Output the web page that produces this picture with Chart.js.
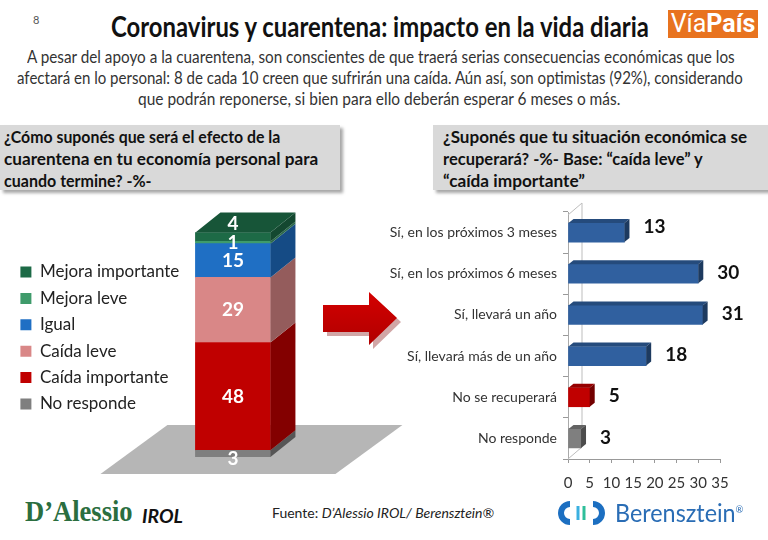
<!DOCTYPE html>
<html>
<head>
<meta charset="utf-8">
<script src="https://cdn.jsdelivr.net/npm/chart.js@4.4.1/dist/chart.umd.min.js"></script>
<style>
  body { margin: 0; width: 768px; height: 540px; background: #fff; position: relative; overflow: hidden; font-family: Lato, "Open Sans", sans-serif; color: #222; }
  .abs { position: absolute; white-space: nowrap; }
  .fit { transform-origin: left top; }
  #pageno { left: 33px; top: 13px; font-size: 11px; color: #555; }
  #title { left: 111px; top: 9px; font-size: 28px; font-weight: bold; color: #111; }
  #logo { left: 668px; top: 10px; width: 90px; height: 28px; background: #e8731f; color: #fff; font-size: 25px; line-height: 28px; text-align: center; font-family: "Liberation Sans Narrow", Roboto, sans-serif; }
  #logo b { font-weight: bold; }
  .sub { font-size: 17px; color: #333; }
  .qbox { position: absolute; background: #d9d9d9; box-shadow: 3px 3px 3px rgba(0,0,0,0.35); }
  .q { font-size: 17px; font-weight: bold; color: #111; }
  #fuente { left: 272px; top: 504px; font-size: 14px; color: #222; }
  #dal { left: 25px; top: 495px; font-family: "Liberation Serif", serif; font-size: 29px; font-weight: bold; color: #2b6e3f; }
  #irol { left: 142px; top: 505px; font-size: 18px; font-weight: bold; font-style: italic; color: #111; }
  #beren { left: 615px; top: 497px; font-size: 25px; color: #2a6db5; }
  #beren sup { font-size: 10px; }
</style>
</head>
<body>
<div id="pageno" class="abs">8</div>
<div id="title" class="abs fit" data-w="538">Coronavirus y cuarentena: impacto en la vida diaria</div>
<div id="logo" class="abs">Vía<b>País</b></div>

<div class="abs sub fit" style="left:27px; top:46px" data-w="708">A pesar del apoyo a la cuarentena, son conscientes de que traerá serias consecuencias económicas que los</div>
<div class="abs sub fit" style="left:17px; top:67px" data-w="726">afectará en lo personal: 8 de cada 10 creen que sufrirán una caída. Aún así, son optimistas (92%), considerando</div>
<div class="abs sub fit" style="left:138px; top:88px" data-w="482">que podrán reponerse, si bien para ello deberán esperar 6 meses o más.</div>

<div class="qbox" style="left:0; top:125px; width:340px; height:65px"></div>
<div class="abs q fit" style="left:4px; top:126px" data-w="276">¿Cómo suponés que será el efecto de la</div>
<div class="abs q fit" style="left:4px; top:148px" data-w="314">cuarentena en tu economía personal para</div>
<div class="abs q fit" style="left:4px; top:170px" data-w="148">cuando termine? -%-</div>

<div class="qbox" style="left:433px; top:125px; width:345px; height:65px"></div>
<div class="abs q fit" style="left:443px; top:126px" data-w="304">¿Suponés que tu situación económica se</div>
<div class="abs q fit" style="left:443px; top:148px" data-w="260">recuperará? -%- Base: “caída leve” y</div>
<div class="abs q fit" style="left:443px; top:170px" data-w="142">“caída importante”</div>

<div class="abs" style="left:0; top:195px; width:440px; height:285px"><canvas id="leftChart"></canvas></div>
<div class="abs" style="left:380px; top:195px; width:388px; height:300px"><canvas id="rightChart"></canvas></div>

<svg class="abs" style="left:316px; top:286px" width="90" height="70">
  <defs>
    <linearGradient id="ag" x1="0" y1="0" x2="0" y2="1">
      <stop offset="0" stop-color="#d40000"/>
      <stop offset="1" stop-color="#b00000"/>
    </linearGradient>
  </defs>
  <polygon points="9,21 55,21 55,8 83,34 55,61 55,48 9,48" fill="#7a0000" opacity="0.35" transform="translate(2,2)"/>
  <polygon points="7,19 53,19 53,6 81,32 53,59 53,46 7,46" fill="url(#ag)"/>
</svg>

<div id="dal" class="abs fit" data-w="108">D’Alessio</div>
<div id="irol" class="abs fit" data-w="41">IROL</div>
<div id="fuente" class="abs">Fuente: <i>D’Alessio IROL/ Berensztein®</i></div>
<svg class="abs" style="left:552px; top:499px" width="60" height="28">
  <path d="M 18 5 A 9 9 0 1 0 18 23" fill="none" stroke="#1c6fc1" stroke-width="6"/>
  <path d="M 41 5 A 9 9 0 1 1 41 23" fill="none" stroke="#1c6fc1" stroke-width="6"/>
  <line x1="26" y1="7" x2="26" y2="21" stroke="#3bb0e0" stroke-width="3"/>
  <line x1="32" y1="7" x2="32" y2="21" stroke="#2fbf9a" stroke-width="3"/>
</svg>
<div id="beren" class="abs fit" data-w="128">Berensztein<sup>®</sup></div>

<script>
// ---- data ----
const effectLabels = ["No responde", "Caída importante", "Caída leve", "Igual", "Mejora leve", "Mejora importante"];
const effectValues = [3, 48, 29, 15, 1, 4];
const effectColors = ["#7f7f7f", "#c00000", "#d98787", "#1f6fc4", "#3f9b6b", "#1d6a46"];

const recoveryLabels = ["Sí, en los próximos 3 meses", "Sí, en los próximos 6 meses", "Sí, llevará un año", "Sí, llevará más de un año", "No se recuperará", "No responde"];
const recoveryValues = [13, 30, 31, 18, 5, 3];
const recoveryColors = ["#30609f", "#30609f", "#30609f", "#30609f", "#c00000", "#7f7f7f"];
const xTickValues = [0, 5, 10, 15, 20, 25, 30, 35];

// stretch/condense html text to the width it has in the slide
document.querySelectorAll(".fit").forEach(el => {
    const w = parseFloat(el.dataset.w);
    el.style.transform = "scaleX(" + (w / el.offsetWidth) + ")";
});

function shade(hex, f) {
    const n = parseInt(hex.slice(1), 16);
    const r = Math.round(((n >> 16) & 255) * f);
    const g = Math.round(((n >> 8) & 255) * f);
    const b = Math.round((n & 255) * f);
    return "rgb(" + r + "," + g + "," + b + ")";
}

function poly(ctx, pts, fill) {
    ctx.beginPath();
    ctx.moveTo(pts[0][0], pts[0][1]);
    for (let i = 1; i < pts.length; i++) ctx.lineTo(pts[i][0], pts[i][1]);
    ctx.closePath();
    ctx.fillStyle = fill;
    ctx.fill();
}

// ---- left: stacked 3d column ----
const DX = 25, DY = -20;

const floorPlugin = {
    id: "floor",
    beforeDatasetsDraw(chart) {
        const p = chart.getDatasetMeta(0).data[0].getProps(["x", "width", "base"], true);
        const L = p.x - p.width / 2, R = p.x + p.width / 2, B = p.base;
        const ctx = chart.ctx;
        ctx.save();
        poly(ctx, [[L - 28, B - 32], [R + 132, B - 32], [R + 65, B + 17], [L - 95, B + 17]], "#b6b6b6");
        ctx.restore();
    }
};

const columnPlugin = {
    id: "column3d",
    afterDatasetsDraw(chart) {
        const ctx = chart.ctx;
        const n = chart.data.datasets.length;
        ctx.save();
        for (let i = 0; i < n; i++) {
            const p = chart.getDatasetMeta(i).data[0].getProps(["x", "y", "width", "base"], true);
            const L = p.x - p.width / 2, R = p.x + p.width / 2;
            const col = chart.data.datasets[i].backgroundColor;
            poly(ctx, [[R, p.y], [R + DX, p.y + DY], [R + DX, p.base + DY], [R, p.base]], shade(col, 0.68));
            if (i === n - 1) {
                poly(ctx, [[L, p.y], [L + DX, p.y + DY], [R + DX, p.y + DY], [R, p.y]], shade(col, 0.8));
            }
        }
        // value labels
        ctx.fillStyle = "#fff";
        ctx.font = "bold 19px Lato";
        ctx.textAlign = "center";
        ctx.textBaseline = "middle";
        for (let i = 0; i < n; i++) {
            const p = chart.getDatasetMeta(i).data[0].getProps(["x", "y", "width", "base"], true);
            let y = (p.y + p.base) / 2;
            if (i === n - 1) y = p.y + DY / 2 + 1;
            if (i === 0) y = p.base + 2;
            ctx.fillText(String(effectValues[i]), p.x, y);
        }
        ctx.restore();
    }
};

new Chart(document.getElementById("leftChart"), {
    type: "bar",
    data: {
        datasets: effectLabels.map((lab, i) => ({
            label: lab,
            data: [{ x: 0, y: effectValues[i] }],
            backgroundColor: effectColors[i],
            borderWidth: 0,
            barThickness: 75,
        })),
    },
    options: {
        responsive: true,
        maintainAspectRatio: false,
        animation: false,
        layout: { padding: { left: 11, right: 0, top: 24, bottom: 23 } },
        plugins: {
            legend: {
                position: "left",
                reverse: true,
                labels: {
                    boxWidth: 11,
                    boxHeight: 11,
                    padding: 9.4,
                    color: "#222",
                    font: { family: "Lato", size: 17 },
                },
            },
            tooltip: { enabled: false },
        },
        scales: {
            x: { type: "linear", stacked: true, display: false, offset: false, min: -0.4, max: 1.9 },
            y: { stacked: true, display: false, min: 0, max: 106 },
        },
    },
    plugins: [floorPlugin, columnPlugin],
});

// ---- right: horizontal 3d bars ----
const wallPlugin = {
    id: "wall",
    beforeDatasetsDraw(chart) {
        const a = chart.chartArea;
        const ctx = chart.ctx;
        ctx.save();
        ctx.strokeStyle = "#bdbdbd";
        ctx.lineWidth = 1;
        ctx.beginPath();
        ctx.moveTo(a.left, a.top + 3);
        ctx.lineTo(a.left + 14, a.top - 9);
        ctx.lineTo(a.left + 14, a.bottom - 12);
        ctx.lineTo(a.left, a.bottom);
        ctx.stroke();
        ctx.restore();
    }
};

const barPlugin = {
    id: "bar3d",
    afterDatasetsDraw(chart) {
        const ctx = chart.ctx;
        ctx.save();
        chart.getDatasetMeta(0).data.forEach((el, i) => {
            const p = el.getProps(["x", "y", "base", "height"], true);
            const T = p.y - p.height / 2, B = p.y + p.height / 2;
            const col = recoveryColors[i];
            poly(ctx, [[p.base, T], [p.base + 5, T - 4], [p.x + 5, T - 4], [p.x, T]], shade(col, 0.78));
            poly(ctx, [[p.x, T], [p.x + 5, T - 4], [p.x + 5, B - 4], [p.x, B]], shade(col, 0.6));
            ctx.fillStyle = "#111";
            ctx.font = "bold 19px Lato";
            ctx.textAlign = "left";
            ctx.textBaseline = "middle";
            ctx.fillText(String(recoveryValues[i]), p.x + 19, p.y - (i === 0 ? 6 : 1));
        });
        ctx.restore();
    }
};

new Chart(document.getElementById("rightChart"), {
    type: "bar",
    data: {
        labels: recoveryLabels,
        datasets: [{
            data: recoveryValues,
            backgroundColor: recoveryColors,
            borderWidth: 0,
            barThickness: 19,
        }],
    },
    options: {
        indexAxis: "y",
        responsive: true,
        maintainAspectRatio: false,
        animation: false,
        layout: { padding: { left: 0, right: 48, top: 17, bottom: 0 } },
        plugins: { legend: { display: false }, tooltip: { enabled: false } },
        scales: {
            x: {
                min: 0,
                max: 35,
                afterBuildTicks(scale) { scale.ticks = xTickValues.map(v => ({ value: v })); },
                afterFit(scale) { scale.height = 36; },
                grid: { drawOnChartArea: false, tickLength: 4, color: "#999" },
                border: { color: "#999" },
                ticks: { padding: 11, autoSkip: false, maxRotation: 0, minRotation: 0, color: "#333", font: { family: "Lato", size: 15 } },
            },
            y: {
                afterFit(scale) { scale.width = 188; },
                grid: { drawOnChartArea: false, offset: true, tickLength: 5, color: "#999" },
                border: { color: "#aaa" },
                ticks: { padding: 6, color: "#333", font: { family: "Lato", size: 14 } },
            },
        },
    },
    plugins: [wallPlugin, barPlugin],
});
</script>
</body>
</html>
